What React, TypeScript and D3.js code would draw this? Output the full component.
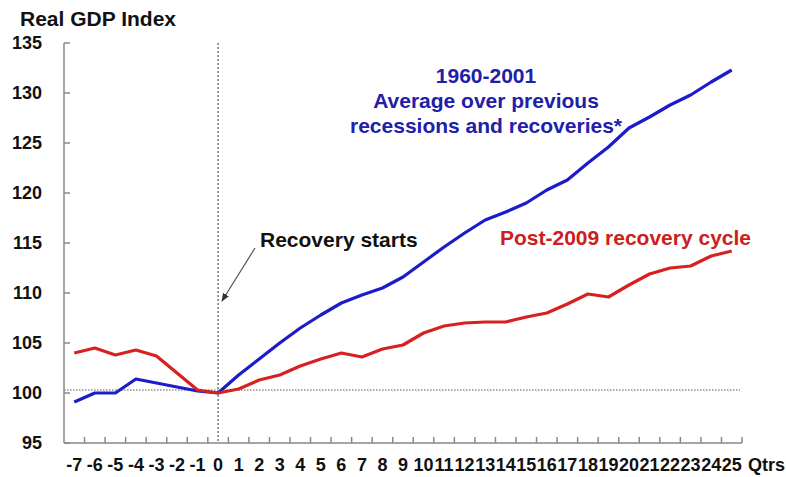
import React from 'react';
import * as d3 from 'd3';

const quarters = [-7, -6, -5, -4, -3, -2, -1, 0, 1, 2, 3, 4, 5, 6, 7, 8, 9, 10, 11, 12, 13, 14, 15, 16, 17, 18, 19, 20, 21, 22, 23, 24, 25];

const avgRecovery = [99.1, 100.0, 100.0, 101.4, 101.0, 100.6, 100.2, 100.0, 101.8, 103.4, 105.0, 106.5, 107.8, 109.0, 109.8, 110.5, 111.6, 113.1, 114.6, 116.0, 117.3, 118.1, 119.0, 120.3, 121.3, 123.0, 124.6, 126.5, 127.6, 128.8, 129.8, 131.1, 132.3];

const post2009 = [104.0, 104.5, 103.8, 104.3, 103.7, 102.0, 100.3, 100.0, 100.4, 101.3, 101.8, 102.7, 103.4, 104.0, 103.6, 104.4, 104.8, 106.0, 106.7, 107.0, 107.1, 107.1, 107.6, 108.0, 108.9, 109.9, 109.6, 110.8, 111.9, 112.5, 112.7, 113.7, 114.2];

const yTicks = [95, 100, 105, 110, 115, 120, 125, 130, 135];
const blueLabel = ['1960-2001', 'Average over previous', 'recessions and recoveries*'];

const width = 786;
const height = 477;
const font = '"Liberation Sans", Arial, sans-serif';

export default function App() {
  const x = d3.scaleLinear().domain([-7.5, 25.5]).range([64, 742]);
  const y = d3.scaleLinear().domain([95, 135]).range([443, 43]);

  const line = d3.line<number>()
    .x((_, i) => x(quarters[i]))
    .y(d => y(d));

  // category boundaries for the tick marks
  const bounds = quarters.map(q => q + 0.5);

  return (
    <svg width={width} height={height} style={{ position: 'absolute', left: 0, top: 0, background: '#fff' }}
      fontFamily={font} fontWeight="bold">
      <defs>
        <marker id="arr" viewBox="0 0 10 10" refX="9" refY="5" markerWidth="7" markerHeight="7" orient="auto">
          <path d="M0,1 L10,5 L0,9 z" fill="#333" />
        </marker>
      </defs>

      <text x={20} y={26} fontSize={21} fill="#111">Real GDP Index</text>

      {/* reference lines */}
      <line x1={x(0)} x2={x(0)} y1={y(135)} y2={y(95)} stroke="#333" strokeWidth={1} strokeDasharray="2,2" />
      <line x1={x(-7.5)} x2={x(25.4)} y1={y(100.3)} y2={y(100.3)} stroke="#555" strokeWidth={1} strokeDasharray="1.5,1.5" />

      {/* y axis */}
      <line x1={64} x2={64} y1={y(135)} y2={y(95)} stroke="#888" strokeWidth={1.5} />
      {yTicks.map(t => (
        <g key={t}>
          <line x1={64} x2={70} y1={y(t)} y2={y(t)} stroke="#888" strokeWidth={1.5} />
          <text x={42} y={y(t)} dy="0.35em" textAnchor="end" fontSize={18} fill="#111">{t}</text>
        </g>
      ))}

      {/* x axis */}
      <line x1={x(-7.5)} x2={x(25.5)} y1={y(95)} y2={y(95)} stroke="#888" strokeWidth={1.5} />
      {bounds.map(b => (
        <line key={b} x1={x(b)} x2={x(b)} y1={y(95)} y2={y(95) - 6} stroke="#888" strokeWidth={1.5} />
      ))}
      {quarters.map(q => (
        <text key={q} x={x(q)} y={465} dy="0.35em" textAnchor="middle" fontSize={18} fill="#111">{q}</text>
      ))}
      <text x={748} y={465} dy="0.35em" fontSize={18} fill="#111">Qtrs</text>

      {/* series */}
      <path d={line(avgRecovery) ?? ''} fill="none" stroke="#1c1cc8" strokeWidth={3.2} strokeLinejoin="round" />
      <path d={line(post2009) ?? ''} fill="none" stroke="#d92020" strokeWidth={3.2} strokeLinejoin="round" />

      {/* annotations */}
      <text x={260} y={240} dy="0.35em" fontSize={21} fill="#111">Recovery starts</text>
      <line x1={255} x2={222} y1={248} y2={301} stroke="#555" strokeWidth={1.2} markerEnd="url(#arr)" />

      {blueLabel.map((s, i) => (
        <text key={s} x={486} y={76 + i * 25} dy="0.35em" textAnchor="middle" fontSize={21} fill="#2020a8">{s}</text>
      ))}
      <text x={500} y={238} dy="0.35em" fontSize={21} fill="#cc2020">Post-2009 recovery cycle</text>
    </svg>
  );
}
